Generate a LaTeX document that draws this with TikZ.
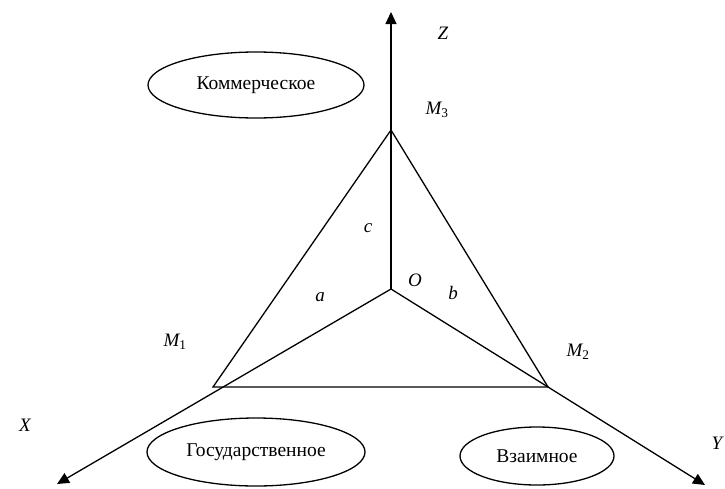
\documentclass[tikz,border=0pt]{standalone}
\usepackage{fontspec}
\setmainfont{Liberation Serif}
\usetikzlibrary{arrows.meta,shapes.geometric}
\begin{document}
\begin{tikzpicture}[x=1pt,y=-1pt,
  ln/.style={line width=1.3pt},
  ax/.style={ln,-{Triangle[length=12pt,width=11pt]}},
  oval/.style={draw,ellipse,line width=1.3pt,inner sep=0pt,font=\fontsize{19.5}{22}\selectfont},
  lab/.style={font=\fontsize{19}{22}\selectfont\itshape,inner sep=0pt}]
\useasboundingbox (0,0) rectangle (725,488);
\coordinate (O) at (391,289);
\coordinate (M3) at (391,130);
\coordinate (M1) at (213,387);
\coordinate (M2) at (548,387);
\coordinate (Zt) at (391,12);
\coordinate (Xt) at (57,484);
\coordinate (Yt) at (705,485);
\draw[ax] (O) -- (Zt);
\draw[ax] (O) -- (Xt);
\draw[ax] (O) -- (Yt);
\draw[ln,line join=miter] (M1) -- (M3) -- (M2) -- cycle;
\node[oval,minimum width=216pt,minimum height=66pt] (kom) at (256,85) {Коммерческое};
\node[oval,minimum width=218pt,minimum height=68pt] (gos) at (256,452) {Государственное};
\node[oval,minimum width=154pt,minimum height=58pt] (vza) at (537,456) {Взаимное};
\node[lab] (z) at (443,33) {Z};
\node[lab] (m3) at (437,110) {M\textsubscript{\upshape 3}};
\node[lab] (c) at (368,228) {c};
\node[lab] (o) at (415,280) {O};
\node[lab] (a) at (320,297) {a};
\node[lab] (b) at (453,293) {b};
\node[lab] (m1) at (175,342) {M\textsubscript{\upshape 1}};
\node[lab] (m2) at (578,352) {M\textsubscript{\upshape 2}};
\node[lab] (x) at (25,425) {X};
\node[lab] (y) at (717,443) {Y};
\end{tikzpicture}
\end{document}
